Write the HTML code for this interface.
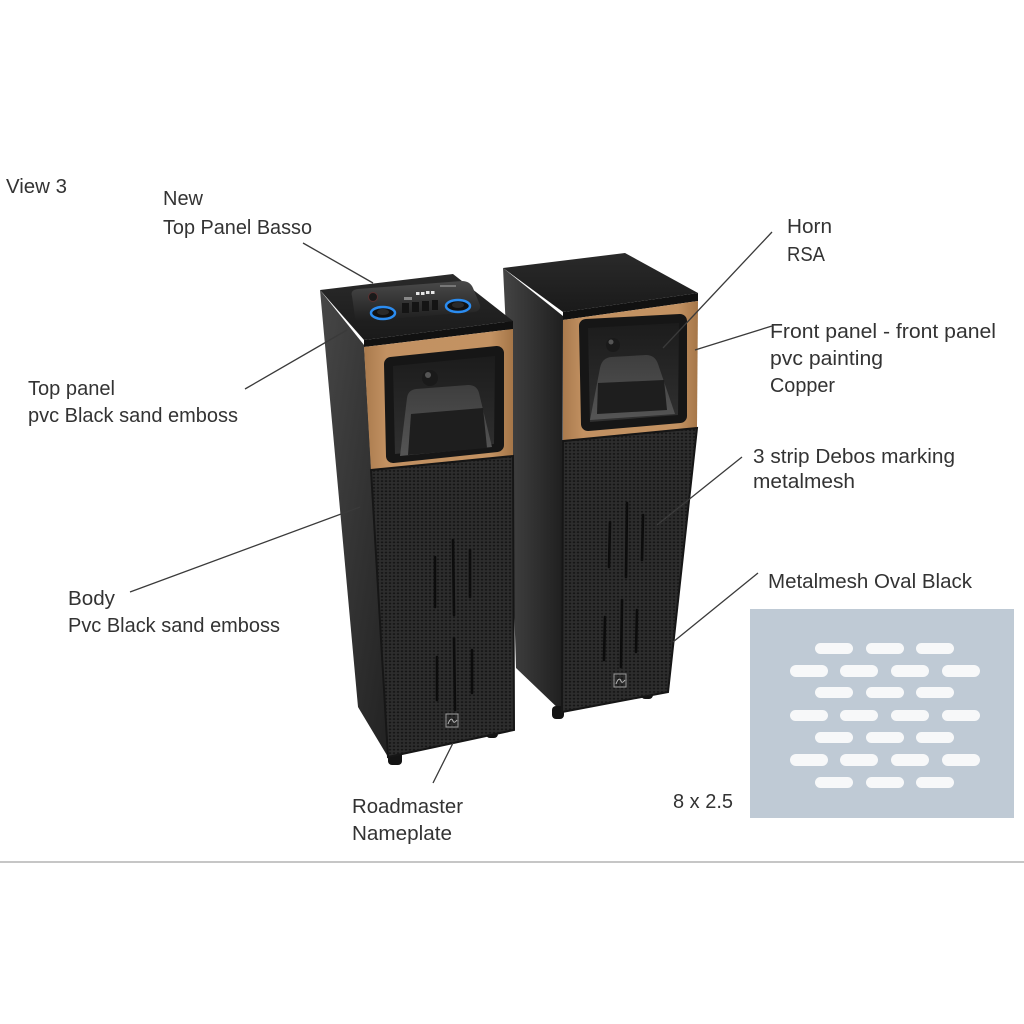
<!DOCTYPE html>
<html><head><meta charset="utf-8"><style>
html,body{margin:0;padding:0;background:#fff;width:1024px;height:1024px;overflow:hidden}
svg{display:block}
</style></head><body>
<svg width="1024" height="1024" viewBox="0 0 1024 1024" xmlns="http://www.w3.org/2000/svg">
<defs>
  <pattern id="mesh" width="4" height="3.4" patternUnits="userSpaceOnUse">
    <rect width="4" height="3.4" fill="#2d2d2d"/>
    <ellipse cx="2" cy="1.7" rx="1.3" ry="0.95" fill="#161616"/>
  </pattern>
  <linearGradient id="sideL" x1="0" y1="0" x2="1" y2="1">
    <stop offset="0" stop-color="#474747"/><stop offset="1" stop-color="#222"/>
  </linearGradient>
  <linearGradient id="sideR" x1="0" y1="0" x2="1" y2="0">
    <stop offset="0" stop-color="#444"/><stop offset="1" stop-color="#1f1f1f"/>
  </linearGradient>
  <linearGradient id="top" x1="0" y1="0" x2="0" y2="1">
    <stop offset="0" stop-color="#2a2a2a"/><stop offset="1" stop-color="#1a1a1a"/>
  </linearGradient>
  <linearGradient id="copper" x1="0" y1="0" x2="1" y2="0">
    <stop offset="0" stop-color="#a97a4d"/><stop offset="0.15" stop-color="#c29162"/><stop offset="0.85" stop-color="#c39262"/><stop offset="1" stop-color="#a57648"/>
  </linearGradient>
  <linearGradient id="bell" x1="0" y1="0" x2="0" y2="1">
    <stop offset="0" stop-color="#3e3e3e"/><stop offset="1" stop-color="#555"/>
  </linearGradient>
  <linearGradient id="hornIn" x1="0" y1="0" x2="0" y2="1">
    <stop offset="0" stop-color="#1c1c1c"/><stop offset="1" stop-color="#303030"/>
  </linearGradient>
  <linearGradient id="panel" x1="0" y1="0" x2="0" y2="1">
    <stop offset="0" stop-color="#4a4a4a"/><stop offset="1" stop-color="#1e1e1e"/>
  </linearGradient>
</defs>

<!-- ===== Right speaker ===== -->
<polygon points="503,268 563,316 562,712 516,668 506,330" fill="url(#sideR)"/>
<rect x="552" y="706" width="12" height="13" rx="4" fill="#141414"/>
<rect x="641" y="686" width="12" height="13" rx="4" fill="#141414"/>
<polygon points="563,441 697,428 668,692 562,712" fill="url(#mesh)"/>
<polygon points="563,441 697,428 668,692 562,712" fill="none" stroke="#161616" stroke-width="2"/>
<polygon points="503,268 625,253 698,293 563,312" fill="url(#top)"/>
<polygon points="563,312 698,293 698,301 563,320" fill="#111"/>
<polygon points="563,320 698,301 697,428 563,441" fill="url(#copper)"/>
<line x1="563" y1="441" x2="697" y2="428" stroke="#151515" stroke-width="2"/>
<polygon points="586,326 680,321 680,416 588,424" fill="#161616" stroke="#161616" stroke-width="14" stroke-linejoin="round"/>
<polygon points="588,328 679,323 678,415 590,422" fill="url(#hornIn)"/>
<path d="M600,368 Q602,358 611,357 L646,355 Q655,355 658,364 L675,414 L590,420 Z" fill="url(#bell)"/>
<polygon points="598,383 664,380 667,410 597,414" fill="#1e1e1e"/>
<circle cx="613" cy="345" r="7" fill="#1a1a1a"/>
<circle cx="611" cy="342" r="2.5" fill="#555"/>
<g stroke="#0c0c0c" stroke-width="2.6" stroke-linecap="round">
  <line x1="610" y1="522" x2="609" y2="567"/>
  <line x1="627" y1="503" x2="626" y2="577"/>
  <line x1="643" y1="515" x2="642" y2="560"/>
  <line x1="605" y1="617" x2="604" y2="660"/>
  <line x1="622" y1="600" x2="621" y2="667"/>
  <line x1="637" y1="610" x2="636" y2="652"/>
</g>
<rect x="614" y="674" width="12" height="13" fill="none" stroke="#9a9a9a" stroke-width="1"/>
<path d="M616,684 Q619,676 621,681 Q622,684 625,680" fill="none" stroke="#bbb" stroke-width="1"/>

<!-- ===== Left speaker ===== -->
<polygon points="320,290 364,345 388,757 358,707" fill="url(#sideL)"/>
<rect x="388" y="751" width="14" height="14" rx="4" fill="#131313"/>
<rect x="486" y="725" width="12" height="13" rx="4" fill="#131313"/>
<polygon points="371,470 513,456 514,730 388,757" fill="url(#mesh)"/>
<polygon points="371,470 513,456 514,730 388,757" fill="none" stroke="#161616" stroke-width="2"/>
<polygon points="320,290 453,274 513,321 364,340" fill="url(#top)"/>
<polygon points="364,340 513,321 513,329 364,347" fill="#111"/>
<polygon points="364,347 513,329 513,456 371,470" fill="url(#copper)"/>
<line x1="371" y1="470" x2="513" y2="456" stroke="#151515" stroke-width="2"/>
<!-- control panel -->
<path d="M352,296 Q350,290 358,289 L462,281 Q470,281 473,288 L480,305 Q481,311 474,312 L363,321 Q356,322 355,317 Z" fill="url(#panel)"/>
<ellipse cx="383" cy="313" rx="12" ry="6" fill="#111" stroke="#2b8cf0" stroke-width="2.5"/>
<ellipse cx="383" cy="312" rx="6" ry="3" fill="#2a2a2a"/>
<ellipse cx="458" cy="306" rx="12" ry="6" fill="#111" stroke="#2b8cf0" stroke-width="2.5"/>
<ellipse cx="458" cy="305" rx="6" ry="3" fill="#2a2a2a"/>
<circle cx="373" cy="297" r="4.5" fill="#1a1a1a" stroke="#5a3030" stroke-width="1"/>
<g fill="#e6e6e6">
  <rect x="416" y="292" width="3.5" height="3"/><rect x="421" y="292" width="3.5" height="3"/>
  <rect x="426" y="291" width="3.5" height="3"/><rect x="431" y="291" width="3.5" height="3"/>
</g>
<rect x="440" y="285" width="16" height="2" fill="#777"/>
<rect x="404" y="297" width="8" height="3" fill="#888"/>
<g fill="#141414">
  <rect x="402" y="303" width="7" height="10"/><rect x="412" y="302" width="7" height="10"/>
  <rect x="422" y="301" width="7" height="10"/><rect x="432" y="300" width="6" height="10"/>
</g>
<!-- horn -->
<polygon points="391,364 497,353 497,445 393,456" fill="#161616" stroke="#161616" stroke-width="14" stroke-linejoin="round"/>
<polygon points="393,366 495,356 494,444 395,454" fill="url(#hornIn)"/>
<path d="M407,398 Q408,390 416,389 L468,385 Q477,385 479,393 L492,447 L400,456 Z" fill="url(#bell)"/>
<polygon points="411,414 483,408 487,448 408,455" fill="#1e1e1e"/>
<circle cx="430" cy="378" r="8" fill="#1a1a1a"/>
<circle cx="428" cy="375" r="3" fill="#555"/>
<g stroke="#0c0c0c" stroke-width="2.6" stroke-linecap="round">
  <line x1="435" y1="557" x2="435" y2="607"/>
  <line x1="453" y1="540" x2="454" y2="615"/>
  <line x1="470" y1="550" x2="470" y2="597"/>
  <line x1="437" y1="657" x2="437" y2="700"/>
  <line x1="454" y1="638" x2="455" y2="710"/>
  <line x1="472" y1="650" x2="472" y2="693"/>
</g>
<rect x="446" y="714" width="12" height="13" fill="none" stroke="#9a9a9a" stroke-width="1"/>
<path d="M448,724 Q451,716 453,721 Q454,724 457,720" fill="none" stroke="#bbb" stroke-width="1"/>

<!-- ===== Leader lines ===== -->
<g stroke="#3a3a3a" stroke-width="1.3" fill="none">
  <line x1="303" y1="243" x2="373" y2="283"/>
  <line x1="245" y1="389" x2="347" y2="330"/>
  <line x1="130" y1="592" x2="360" y2="507"/>
  <line x1="433" y1="783" x2="453" y2="743"/>
  <line x1="772" y1="232" x2="663" y2="348"/>
  <line x1="772" y1="326" x2="695" y2="350"/>
  <line x1="742" y1="457" x2="657" y2="525"/>
  <line x1="758" y1="573" x2="673" y2="642"/>
</g>

<!-- ===== Oval metal mesh sample ===== -->
<rect x="750" y="609" width="264" height="209" fill="#bfcad5"/>
<g fill="#f7f8f9">
  <rect x="815" y="643" width="38" height="11" rx="5.5"/><rect x="866" y="643" width="38" height="11" rx="5.5"/><rect x="916" y="643" width="38" height="11" rx="5.5"/>
  <rect x="790" y="665" width="38" height="12" rx="6"/><rect x="840" y="665" width="38" height="12" rx="6"/><rect x="891" y="665" width="38" height="12" rx="6"/><rect x="942" y="665" width="38" height="12" rx="6"/>
  <rect x="815" y="687" width="38" height="11" rx="5.5"/><rect x="866" y="687" width="38" height="11" rx="5.5"/><rect x="916" y="687" width="38" height="11" rx="5.5"/>
  <rect x="790" y="710" width="38" height="11" rx="5.5"/><rect x="840" y="710" width="38" height="11" rx="5.5"/><rect x="891" y="710" width="38" height="11" rx="5.5"/><rect x="942" y="710" width="38" height="11" rx="5.5"/>
  <rect x="815" y="732" width="38" height="11" rx="5.5"/><rect x="866" y="732" width="38" height="11" rx="5.5"/><rect x="916" y="732" width="38" height="11" rx="5.5"/>
  <rect x="790" y="754" width="38" height="12" rx="6"/><rect x="840" y="754" width="38" height="12" rx="6"/><rect x="891" y="754" width="38" height="12" rx="6"/><rect x="942" y="754" width="38" height="12" rx="6"/>
  <rect x="815" y="777" width="38" height="11" rx="5.5"/><rect x="866" y="777" width="38" height="11" rx="5.5"/><rect x="916" y="777" width="38" height="11" rx="5.5"/>
</g>

<!-- separator -->
<line x1="0" y1="862" x2="1024" y2="862" stroke="#b4b4b4" stroke-width="1.5"/>

<!-- ===== Labels ===== -->
<g font-family="'Liberation Sans', sans-serif" font-size="20" fill="#333" lengthAdjust="spacingAndGlyphs">
  <text x="6" y="193" textLength="61" lengthAdjust="spacingAndGlyphs">View 3</text>
  <text x="163" y="205" textLength="40" lengthAdjust="spacingAndGlyphs">New</text>
  <text x="163" y="234" textLength="149" lengthAdjust="spacingAndGlyphs">Top Panel Basso</text>
  <text x="28" y="395" textLength="87" lengthAdjust="spacingAndGlyphs">Top panel</text>
  <text x="28" y="422" textLength="210" lengthAdjust="spacingAndGlyphs">pvc Black sand emboss</text>
  <text x="68" y="605" textLength="47" lengthAdjust="spacingAndGlyphs">Body</text>
  <text x="68" y="632" textLength="212" lengthAdjust="spacingAndGlyphs">Pvc Black sand emboss</text>
  <text x="352" y="813" textLength="111" lengthAdjust="spacingAndGlyphs">Roadmaster</text>
  <text x="352" y="840" textLength="100" lengthAdjust="spacingAndGlyphs">Nameplate</text>
  <text x="787" y="233" textLength="45" lengthAdjust="spacingAndGlyphs">Horn</text>
  <text x="787" y="261" textLength="38" lengthAdjust="spacingAndGlyphs">RSA</text>
  <text x="770" y="338" textLength="226" lengthAdjust="spacingAndGlyphs">Front panel - front panel</text>
  <text x="770" y="365" textLength="113" lengthAdjust="spacingAndGlyphs">pvc painting</text>
  <text x="770" y="392" textLength="65" lengthAdjust="spacingAndGlyphs">Copper</text>
  <text x="753" y="463" textLength="202" lengthAdjust="spacingAndGlyphs">3 strip Debos marking</text>
  <text x="753" y="488" textLength="102" lengthAdjust="spacingAndGlyphs">metalmesh</text>
  <text x="768" y="588" textLength="204" lengthAdjust="spacingAndGlyphs">Metalmesh Oval Black</text>
  <text x="673" y="808" textLength="60" lengthAdjust="spacingAndGlyphs">8 x 2.5</text>
</g>
</svg>
</body></html>
